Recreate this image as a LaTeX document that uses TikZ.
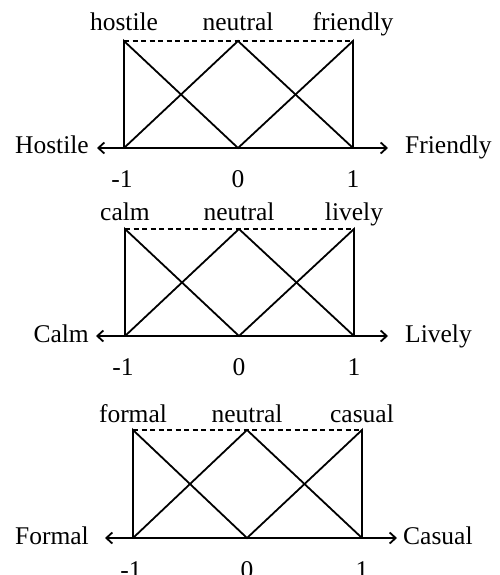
\documentclass[tikz,border=0pt]{standalone}
\usepackage{fontspec}
\setmainfont{Liberation Serif}
\usetikzlibrary{arrows.meta}
\begin{document}
\begin{tikzpicture}[x=1pt,y=-1pt,
  line/.style={line width=1.8pt,line join=miter},
  dashline/.style={line width=1.8pt,dash pattern=on 5pt off 3.5pt},
  axis/.style={line width=1.8pt,{Straight Barb[length=6pt,width=11pt]}-{Straight Barb[length=6pt,width=11pt]}},
  lbl/.style={inner sep=0pt,font=\fontsize{25.5}{30}\selectfont}]
\useasboundingbox (0,0) rectangle (499,575);
\clip (0,0) rectangle (499,575);
\foreach \i/\xl/\xc/\xr/\yt/\yb/\al/\ar/\ly/\ay/\ny/\ll/\lr/\tl/\tc/\tr/\axl/\axr in {
  1/124/238/353/41/148/97/388/31/153/187/Hostile/Friendly/hostile/neutral/friendly/89/405,
  2/125/239/354/229/336/96/388/220/342/375/Calm/Lively/calm/neutral/lively/89/405,
  3/133/247/362/430/538/105/397/422/544/578/Formal/Casual/formal/neutral/casual/89/403}{
  \coordinate (tl\i) at (\xl,\yt);
  \coordinate (tc\i) at (\xc,\yt);
  \coordinate (tr\i) at (\xr,\yt);
  \coordinate (bl\i) at (\xl,\yb);
  \coordinate (bc\i) at (\xc,\yb);
  \coordinate (br\i) at (\xr,\yb);
  \coordinate (al\i) at (\al,\yb);
  \coordinate (ar\i) at (\ar,\yb);
  \draw[axis] (al\i) -- (ar\i);
  \draw[line] (bl\i) -- (tl\i) -- (bc\i) -- (tr\i) -- (br\i);
  \draw[line] (bl\i) -- (tc\i) -- (br\i);
  \draw[dashline] (tl\i) -- (tr\i);
  \node[lbl,anchor=base] (nl\i) at (\xl,\ly) {\tl};
  \node[lbl,anchor=base] (nc\i) at (\xc,\ly) {\tc};
  \node[lbl,anchor=base] (nr\i) at (\xr,\ly) {\tr};
  \node[lbl,anchor=base east] (al\i-t) at (\axl,\ay) {\ll};
  \node[lbl,anchor=base west] (ar\i-t) at (\axr,\ay) {\lr};
  \node[lbl,anchor=base] (m\i) at (\xl-2,\ny) {-1};
  \node[lbl,anchor=base] (z\i) at (\xc,\ny) {0};
  \node[lbl,anchor=base] (o\i) at (\xr,\ny) {1};
}
\end{tikzpicture}
\end{document}
